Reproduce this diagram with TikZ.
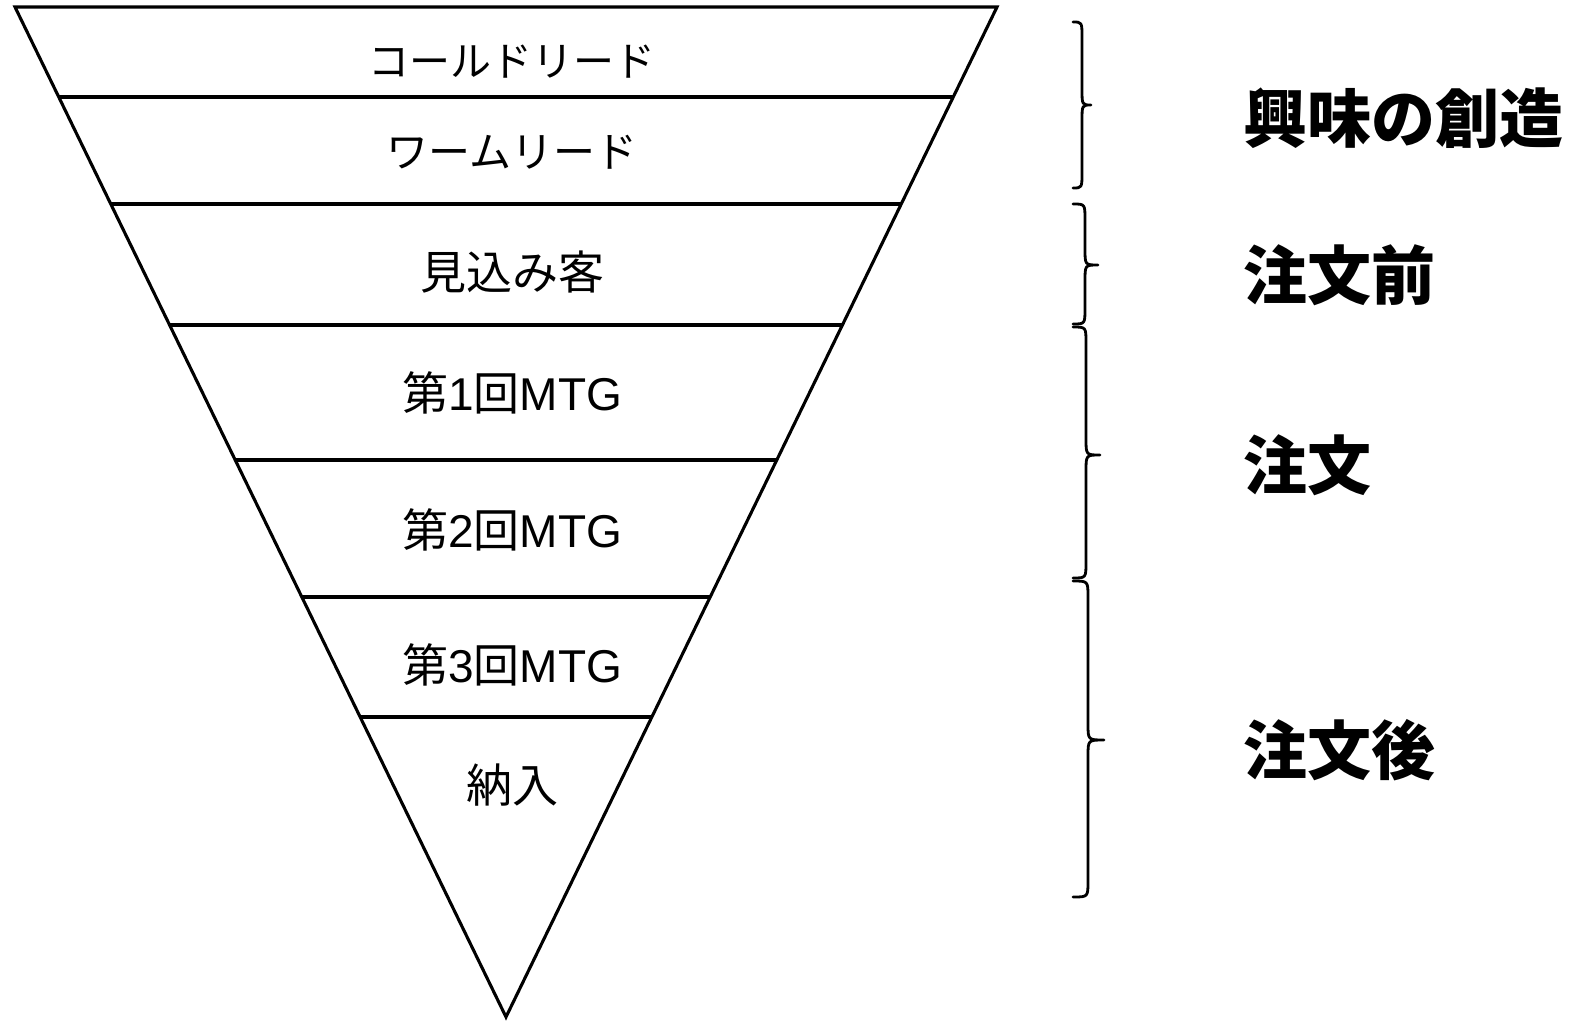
\documentclass[tikz,border=0pt]{standalone}
\usepackage{fontspec}
\setmainfont{Liberation Sans}
\newfontfamily\cjk{Noto Sans CJK JP}
\usetikzlibrary{calc}
\begin{document}
\begin{tikzpicture}[x=1pt,y=-1pt,
  edge/.style={line width=3.1pt,line cap=round},
  sep/.style={line width=3.3pt},
  lbl/.style={inner sep=0pt,anchor=center},
  kata/.style={lbl,font=\fontsize{41}{44}\selectfont\cjk},
  kanji/.style={lbl,font=\fontsize{46}{50}\selectfont},
  side/.style={inner sep=0pt,anchor=west,font=\fontsize{64}{68}\selectfont\cjk\bfseries},
  bracestyle/.style={line width=2.8pt,line cap=round,line join=round}]
\useasboundingbox (0,0) rectangle (1571,1020);
\fill[white] (0,0) rectangle (1571,1020);
\coordinate (TL) at (15,7);
\coordinate (TR) at (997,7);
\coordinate (AP) at (506,1017);
\draw[edge,line join=miter] (TL) -- (TR) -- (AP) -- cycle;
\foreach \t/\n in {0.0891/a,0.1950/b,0.3149/c,0.4485/d,0.5842/e,0.7030/f}{
  \coordinate (L\n) at ($(TL)!\t!(AP)$);
  \coordinate (R\n) at ($(TR)!\t!(AP)$);
  \draw[sep] (L\n) -- (R\n);
}
\node[kata] (t1) at (512,62) {コールドリード};
\node[kata,font=\fontsize{42}{46}\selectfont\cjk] (t2) at (512,152) {ワームリード};
\node[kanji] (t3) at (512,272) {\cjk 見込み客};
\node[kanji] (t4) at (512,393) {{\cjk 第}1{\cjk 回}MTG};
\node[kanji] (t5) at (512,530) {{\cjk 第}2{\cjk 回}MTG};
\node[kanji] (t6) at (512,665) {{\cjk 第}3{\cjk 回}MTG};
\node[kanji] (t7) at (512,785) {\cjk 納入};
% braces
\newcommand{\mybrace}[6]{% x0, top, bottom, vertical x, tip x, mid y
  \draw[bracestyle] (#1,#2) .. controls (#4,#2) .. (#4,#2+16)
    -- (#4,#6-16) .. controls (#4,#6) .. (#5,#6)
    .. controls (#4,#6) .. (#4,#6+16)
    -- (#4,#3-16) .. controls (#4,#3) .. (#1,#3);}
\mybrace{1073}{22}{188}{1082}{1091}{105}
\mybrace{1073}{204}{324}{1085}{1098}{265}
\mybrace{1073}{327}{578}{1086}{1100}{455}
\mybrace{1073}{581}{897}{1088}{1104}{740}
\node[side] (s1) at (1243,118) {興味の創造};
\node[side] (s2) at (1243,275) {注文前};
\node[side] (s3) at (1243,465) {注文};
\node[side] (s4) at (1243,750) {注文後};
\end{tikzpicture}
\end{document}
